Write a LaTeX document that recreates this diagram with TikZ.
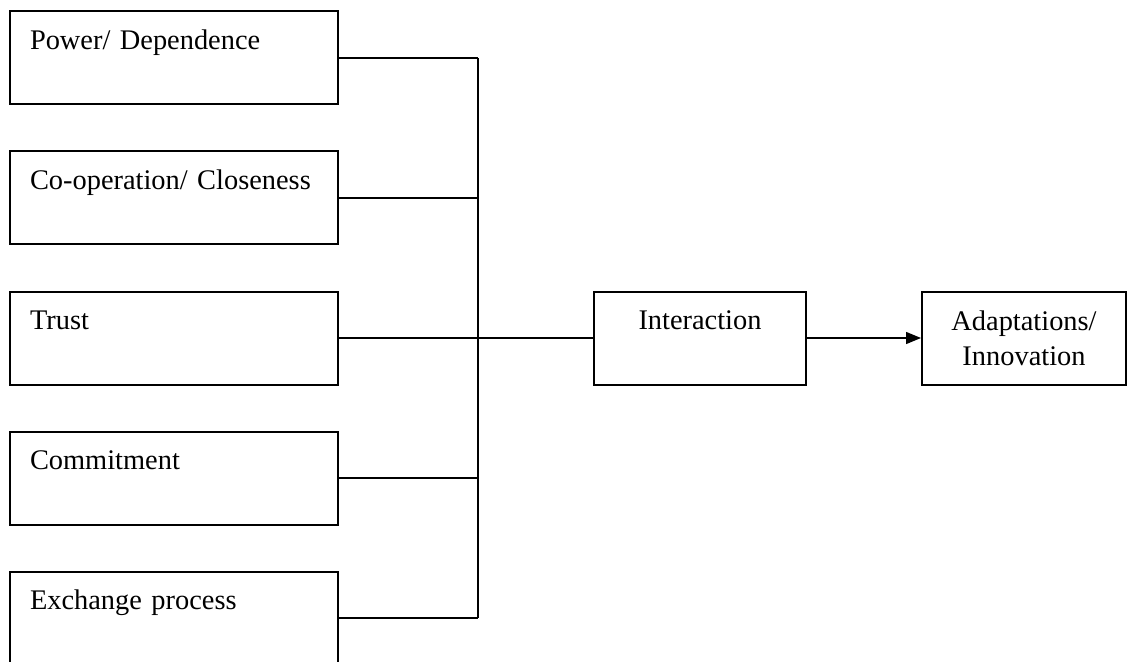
\documentclass[tikz,border=0pt]{standalone}
\usepackage{fontspec}
\setmainfont{Liberation Serif}
\usetikzlibrary{arrows.meta}
\begin{document}
\begin{tikzpicture}[x=0.5pt,y=-0.5pt]
        \tikzstyle{factor}=[rectangle, draw, line width=1pt, minimum width=164pt, minimum height=46.5pt, inner xsep=10pt, inner ysep=0pt, text width=144pt, align=left, text height=10pt, text depth=18.5pt, font=\fontsize{14.2}{17.5}\selectfont]
        \tikzstyle{block}=[rectangle, draw, line width=1pt, minimum height=46.5pt, inner sep=0pt, align=center, font=\fontsize{14.2}{17.5}\selectfont]
        \tikzstyle{link}=[line width=0.7pt]
        \useasboundingbox (0,0) rectangle (1127,662);
        \foreach \txt [count=\i] in {{Power/ Dependence},{Co-operation/ Closeness},Trust,Commitment,{Exchange process}} {
            \node[factor] (f\i) at (174,{140*\i-82}) {\txt};
            \coordinate (j\i) at (478,{140*\i-82});
            \draw[link] (f\i.east) -- (j\i);
        }
        \draw[link] (j1) -- (j5);
        \node[block, minimum width=106pt, text height=10pt, text depth=19pt] (inter) at (700,338) {Interaction};
        \node[block, minimum width=102pt] (adapt) at (1024,338) {Adaptations/\\Innovation};
        \draw[link] (j3) -- (inter);
        \draw[link,-{Triangle[length=7.5pt,width=6pt]}] (inter) -- (adapt);
      \end{tikzpicture}
\end{document}
